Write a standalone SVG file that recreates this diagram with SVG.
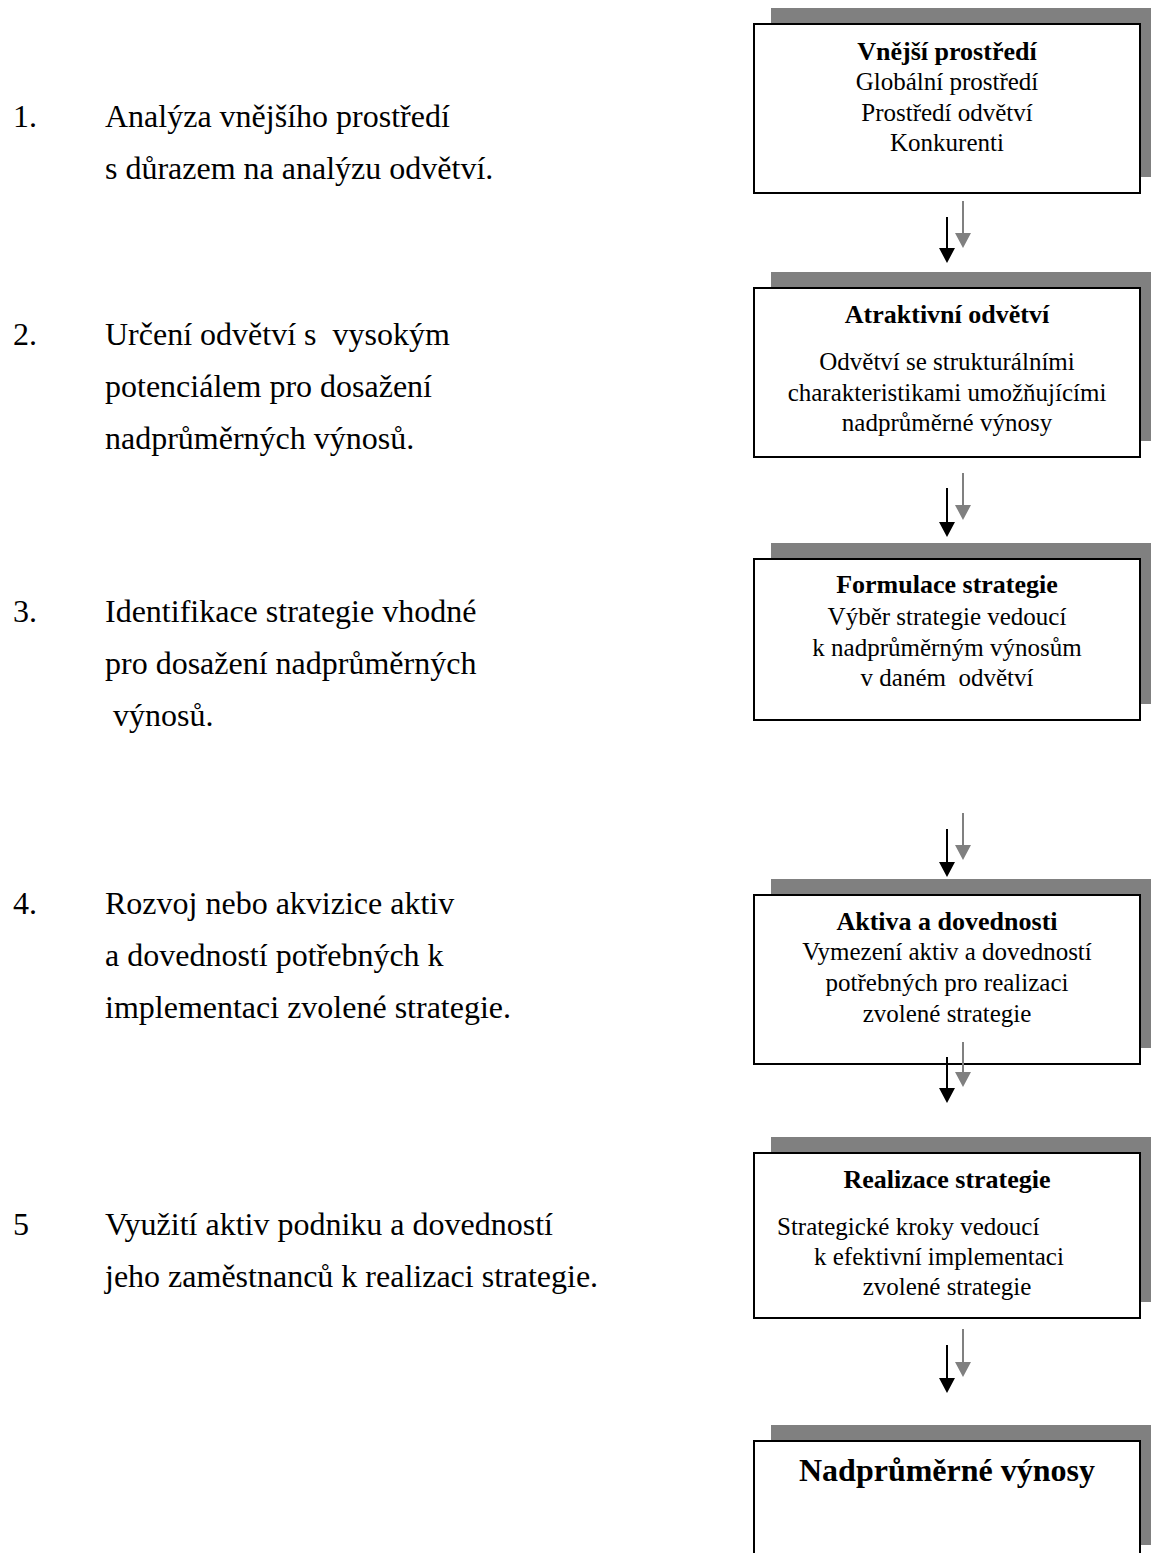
<svg xmlns="http://www.w3.org/2000/svg" width="1151" height="1553" viewBox="0 0 1151 1553">
<style>
.bg{fill:#fff}
.sh{fill:#808080}
.box{fill:#fff;stroke:#000;stroke-width:2}
.lt{font-family:"Liberation Serif","Times New Roman",serif;font-size:32px;fill:#000}
.bt{font-family:"Liberation Serif","Times New Roman",serif;font-size:26px;font-weight:bold;fill:#000;text-anchor:middle}
.rt{font-family:"Liberation Serif","Times New Roman",serif;font-size:25px;fill:#000;text-anchor:middle}
.rl{font-family:"Liberation Serif","Times New Roman",serif;font-size:25px;fill:#000}
.big{font-family:"Liberation Serif","Times New Roman",serif;font-size:32px;font-weight:bold;fill:#000;text-anchor:middle}
.ka{stroke:#000;stroke-width:2;fill:none}
.ga{stroke:#808080;stroke-width:2;fill:none}
</style>
<defs>
<marker id="mk" markerWidth="15" markerHeight="16" refX="5" refY="8" orient="auto" markerUnits="userSpaceOnUse" viewBox="0 0 15 16">
<path d="M0,0 L15,8 L0,16 Z" fill="#000"/>
</marker>
<marker id="mg" markerWidth="15" markerHeight="16" refX="5" refY="8" orient="auto" markerUnits="userSpaceOnUse" viewBox="0 0 15 16">
<path d="M0,0 L15,8 L0,16 Z" fill="#808080"/>
</marker>
</defs>
<rect class="bg" x="0" y="0" width="1151" height="1553"/>

<g id="steps">
<text class="lt" x="13" y="127">1.</text>
<text class="lt" x="105" y="127">Analýza vnějšího prostředí</text>
<text class="lt" x="105" y="179">s důrazem na analýzu odvětví.</text>
<text class="lt" x="13" y="345">2.</text>
<text class="lt" x="105" y="345" xml:space="preserve">Určení odvětví s  vysokým</text>
<text class="lt" x="105" y="397">potenciálem pro dosažení</text>
<text class="lt" x="105" y="449">nadprůměrných výnosů.</text>
<text class="lt" x="13" y="622">3.</text>
<text class="lt" x="105" y="622">Identifikace strategie vhodné</text>
<text class="lt" x="105" y="674">pro dosažení nadprůměrných</text>
<text class="lt" x="105" y="726" xml:space="preserve"> výnosů.</text>
<text class="lt" x="13" y="914">4.</text>
<text class="lt" x="105" y="914">Rozvoj nebo akvizice aktiv</text>
<text class="lt" x="105" y="966">a dovedností potřebných k</text>
<text class="lt" x="105" y="1018">implementaci zvolené strategie.</text>
<text class="lt" x="13" y="1235">5</text>
<text class="lt" x="105" y="1235">Využití aktiv podniku a dovedností</text>
<text class="lt" x="105" y="1287">jeho zaměstnanců k realizaci strategie.</text>
</g>

<g id="n1">
<rect class="sh" x="771" y="8" width="386" height="169"/>
<rect class="box" x="754" y="24" width="386" height="169"/>
<text class="bt" x="947" y="60">Vnější prostředí</text>
<text class="rt" x="947" y="90">Globální prostředí</text>
<text class="rt" x="947" y="121">Prostředí odvětví</text>
<text class="rt" x="947" y="151">Konkurenti</text>
</g>

<g id="n2">
<rect class="sh" x="771" y="272" width="386" height="169"/>
<rect class="box" x="754" y="288" width="386" height="169"/>
<text class="bt" x="947" y="323">Atraktivní odvětví</text>
<text class="rt" x="947" y="370">Odvětví se strukturálními</text>
<text class="rt" x="947" y="401">charakteristikami umožňujícími</text>
<text class="rt" x="947" y="431">nadprůměrné výnosy</text>
</g>

<g id="n3">
<rect class="sh" x="771" y="543" width="386" height="161"/>
<rect class="box" x="754" y="559" width="386" height="161"/>
<text class="bt" x="947" y="593">Formulace strategie</text>
<text class="rt" x="947" y="625">Výběr strategie vedoucí</text>
<text class="rt" x="947" y="656">k nadprůměrným výnosům</text>
<text class="rt" x="947" y="686" xml:space="preserve">v daném  odvětví</text>
</g>

<g id="n4">
<rect class="sh" x="771" y="879" width="386" height="169"/>
<rect class="box" x="754" y="895" width="386" height="169"/>
<text class="bt" x="947" y="930">Aktiva a dovednosti</text>
<text class="rt" x="947" y="960">Vymezení aktiv a dovedností</text>
<text class="rt" x="947" y="991">potřebných pro realizaci</text>
<text class="rt" x="947" y="1022">zvolené strategie</text>
</g>

<g id="n5">
<rect class="sh" x="771" y="1137" width="386" height="165"/>
<rect class="box" x="754" y="1153" width="386" height="165"/>
<text class="bt" x="947" y="1188">Realizace strategie</text>
<text class="rl" x="777" y="1235">Strategické kroky vedoucí</text>
<text class="rl" x="814" y="1265">k efektivní implementaci</text>
<text class="rt" x="947" y="1295">zvolené strategie</text>
</g>

<g id="n6">
<rect class="sh" x="771" y="1425" width="386" height="120"/>
<rect class="box" x="754" y="1441" width="386" height="130"/>
<text class="big" x="947" y="1481">Nadprůměrné výnosy</text>
</g>

<g id="connectors">
<line class="ka" x1="947" y1="217" x2="947" y2="253" marker-end="url(#mk)"/>
<line class="ga" x1="963" y1="201" x2="963" y2="238" marker-end="url(#mg)"/>
<line class="ka" x1="947" y1="488" x2="947" y2="527" marker-end="url(#mk)"/>
<line class="ga" x1="963" y1="473" x2="963" y2="510" marker-end="url(#mg)"/>
<line class="ka" x1="947" y1="829" x2="947" y2="867" marker-end="url(#mk)"/>
<line class="ga" x1="963" y1="813" x2="963" y2="850" marker-end="url(#mg)"/>
<line class="ka" x1="947" y1="1057" x2="947" y2="1093" marker-end="url(#mk)"/>
<line class="ga" x1="963" y1="1042" x2="963" y2="1077" marker-end="url(#mg)"/>
<line class="ka" x1="947" y1="1345" x2="947" y2="1383" marker-end="url(#mk)"/>
<line class="ga" x1="963" y1="1329" x2="963" y2="1367" marker-end="url(#mg)"/>
</g>
</svg>
